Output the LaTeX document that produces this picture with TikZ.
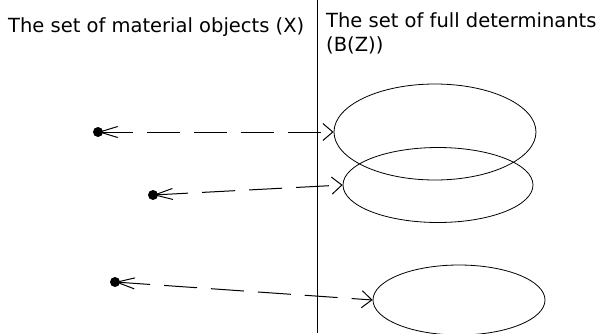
\documentclass[tikz,border=0pt]{standalone}
\usepackage{fontspec}
\setmainfont{DejaVu Sans}
\usepackage{tikz}
\usetikzlibrary{arrows.meta,shapes.geometric}

\begin{document}
\begin{tikzpicture}[
    x=1pt, y=-1pt,
    font=\fontsize{19.5}{24}\selectfont,
    label/.style={inner sep=0pt, align=left},
    set/.style={draw, ellipse, inner sep=0pt, thick},
    dot/.style={circle, fill, inner sep=0pt, minimum size=10pt},
    link/.style={draw, line width=1pt, dash pattern=on 33pt off 14pt,
                 {Straight Barb[length=18pt,width=11pt]}-{Straight Barb[length=10pt,width=17pt]}}]

  \useasboundingbox (0,0) rectangle (597,333);

  % the dividing line between the two sets
  \coordinate (top) at (317,0);
  \coordinate (bot) at (317,333);
  \draw[line width=1pt] (top) -- (bot);

  \node[label, anchor=base west] (hx) at (8,32) {The set of material objects (X)};
  \node[label, anchor=north west] (hb) at (326,12)
    {The set of full determinants\\(B(Z))};

  % full determinants
  \node[set, minimum width=202pt, minimum height=96pt] (e1) at (435,132) {};
  \node[set, minimum width=190pt, minimum height=75pt] (e2) at (438,185) {};
  \node[set, minimum width=172pt, minimum height=70pt] (e3) at (459,300) {};

  % material objects
  \node[dot] (d1) at (98,132) {};
  \node[dot] (d2) at (153,195) {};
  \node[dot] (d3) at (115,282) {};

  \foreach \i/\j in {d1/e1, d2/e2, d3/e3}
    \draw[link] (\i.center) -- (\j.west);
\end{tikzpicture}
\end{document}
